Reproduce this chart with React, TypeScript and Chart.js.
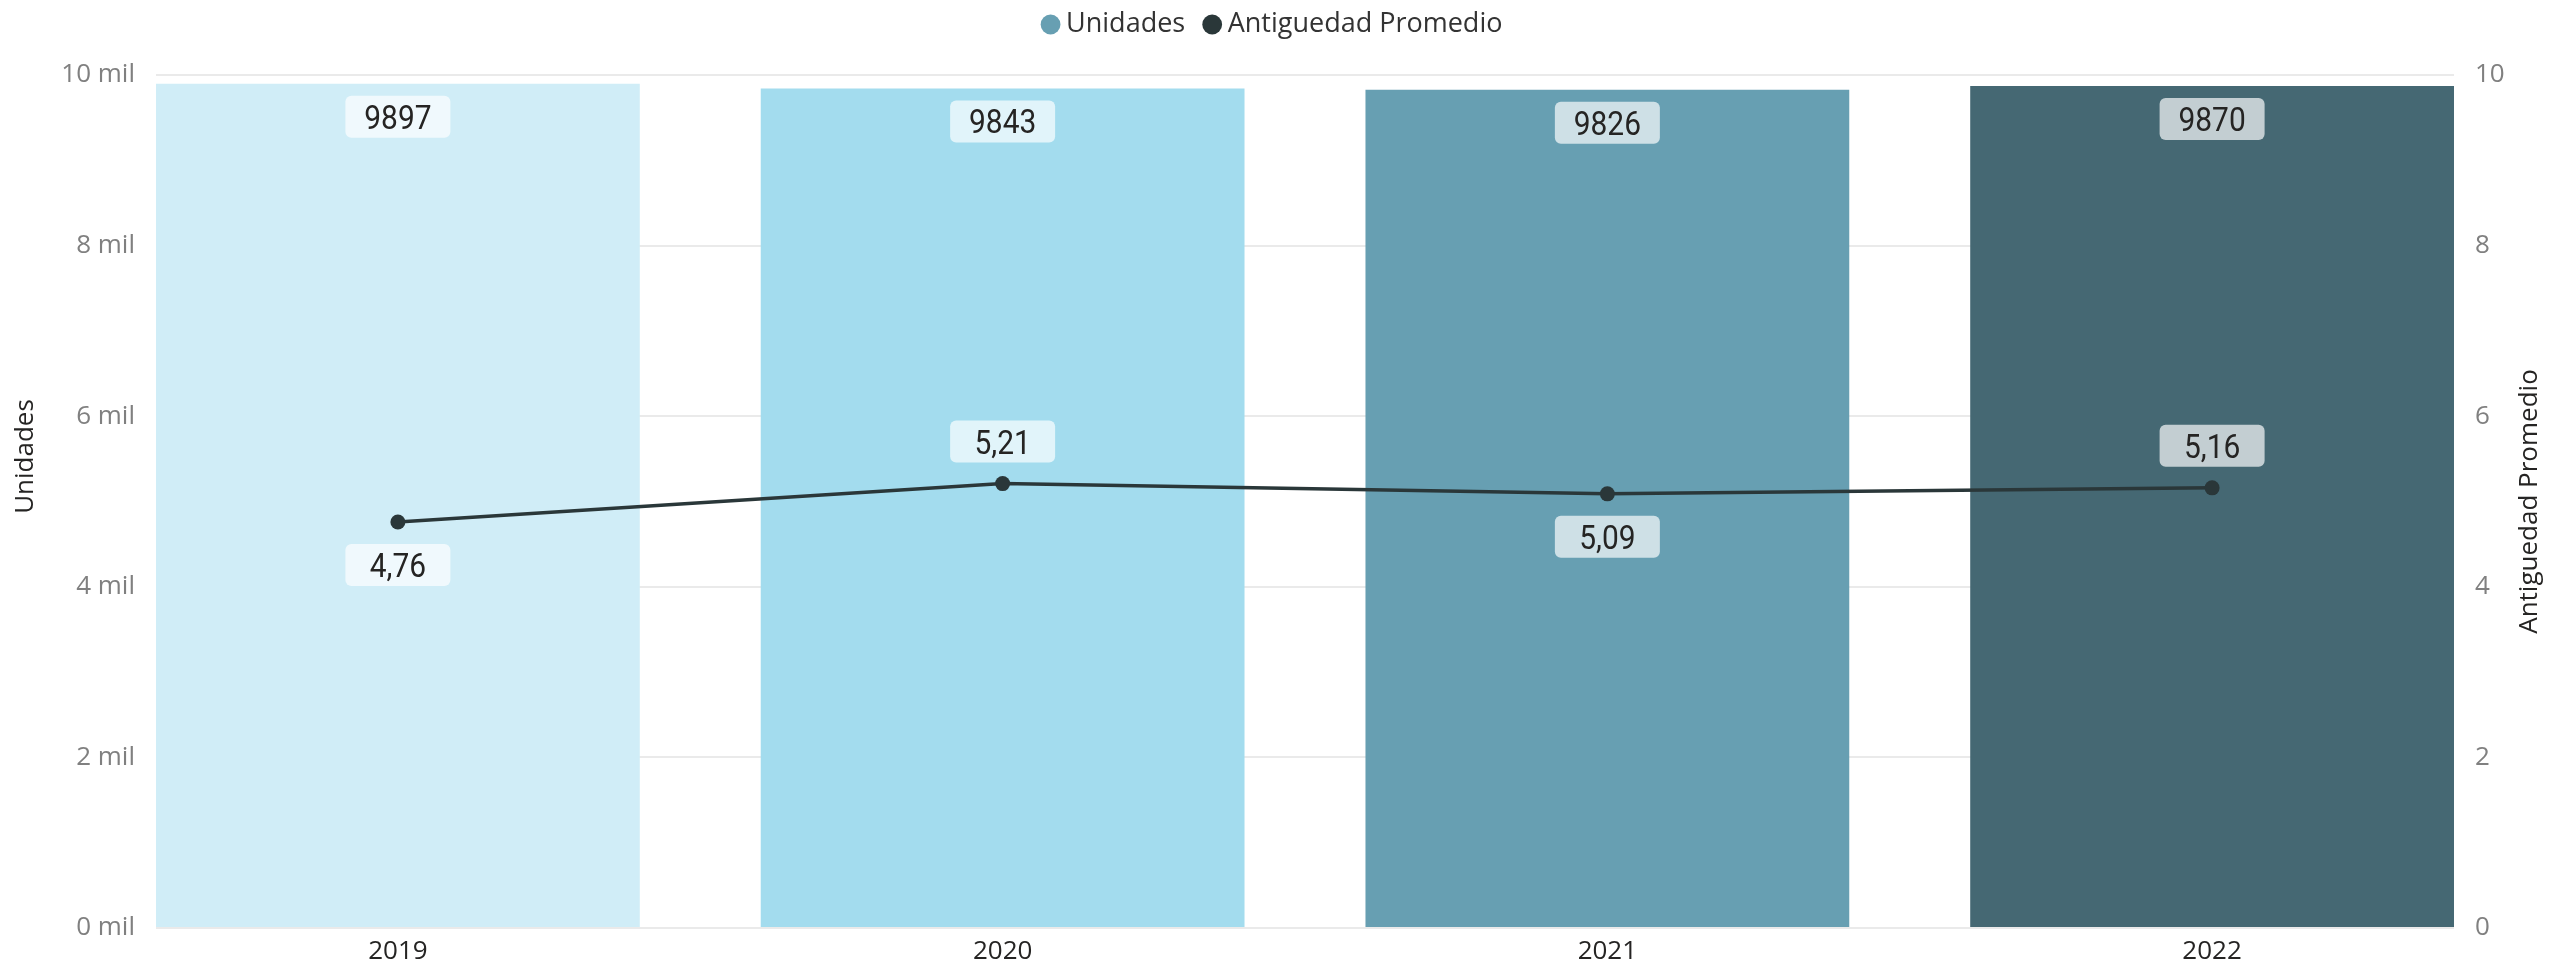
import React, { useEffect, useRef } from "react";
import { Chart, registerables } from "chart.js";

Chart.register(...registerables);

const W = 2551;
const H = 967;

// ---- data ----
const YEARS = ["2019", "2020", "2021", "2022"];
const UNIDADES = [9897, 9843, 9826, 9870];
const ANTIGUEDAD = [4.76, 5.21, 5.09, 5.16];
const LEFT_TICKS = [0, 2000, 4000, 6000, 8000, 10000];
const RIGHT_TICKS = [0, 2, 4, 6, 8, 10];
const LINE_LABEL_POS = ["below", "above", "below", "above"];
const LEFT_TITLE = "Unidades";
const RIGHT_TITLE = "Antiguedad Promedio";

// ---- styles ----
const BAR_COLORS = ["#D0EDF7", "#A3DCEE", "#679FB2", "#456873"];
const LEGEND_BAR_COLOR = "#679FB2";
const LINE_COLOR = "#2A3739";
const UI_FONT = "'Segoe UI', 'Open Sans', 'Noto Sans', sans-serif";
const LABEL_FONT = "400 34px Roboto, 'DejaVu Sans Condensed', sans-serif";

const fmtDec = (v: number) => v.toFixed(2).replace(".", ",");

function drawBox(ctx: CanvasRenderingContext2D, cx: number, cy: number, text: string) {
  const w = 105;
  const h = 42;
  ctx.fillStyle = "rgba(255,255,255,0.68)";
  ctx.beginPath();
  (ctx as any).roundRect(cx - w / 2, cy - h / 2, w, h, 6);
  ctx.fill();
  ctx.save();
  ctx.translate(cx, cy + 12);
  ctx.scale(0.88, 1);
  ctx.fillStyle = "#252423";
  ctx.font = LABEL_FONT;
  ctx.textAlign = "center";
  ctx.textBaseline = "alphabetic";
  ctx.fillText(text, 0, 0);
  ctx.restore();
}

function drawVerticalTitle(ctx: CanvasRenderingContext2D, x: number, y: number, text: string) {
  ctx.save();
  ctx.translate(x, y);
  ctx.rotate(-Math.PI / 2);
  ctx.font = `26px ${UI_FONT}`;
  ctx.fillStyle = "#252423";
  ctx.textAlign = "center";
  ctx.textBaseline = "middle";
  ctx.fillText(text, 0, 0);
  ctx.restore();
}

const labelPlugin = {
  id: "valueLabels",
  afterDatasetsDraw(chart: any) {
    const ctx = chart.ctx as CanvasRenderingContext2D;
    ctx.save();
    const barMeta = chart.getDatasetMeta(0);
    barMeta.data.forEach((el: any, i: number) => {
      drawBox(ctx, el.x, el.y + 12 + 21, String(UNIDADES[i]));
    });
    const lineMeta = chart.getDatasetMeta(1);
    lineMeta.data.forEach((el: any, i: number) => {
      const cy = LINE_LABEL_POS[i] === "above" ? el.y - 21 - 21 : el.y + 22 + 21;
      drawBox(ctx, el.x, cy, fmtDec(ANTIGUEDAD[i]));
    });
    ctx.restore();
  },
  afterDraw(chart: any) {
    const ctx = chart.ctx as CanvasRenderingContext2D;
    const area = chart.chartArea;
    const mid = (area.top + area.bottom) / 2;
    drawVerticalTitle(ctx, 26, mid - 45, LEFT_TITLE);
    drawVerticalTitle(ctx, W - 21, mid, RIGHT_TITLE);
  },
};

const legendPlugin = {
  id: "legendSize",
  afterInit(chart: any) {
    const leg = chart.legend;
    if (!leg || leg.__patched) return;
    const fit = leg.fit;
    leg.fit = function () {
      fit.call(this);
      this.height = 75;
    };
    leg.__patched = true;
  },
  afterLayout(chart: any) {
    if (chart.legend) chart.legend.top = -14;
  },
};

export default function App() {
  const ref = useRef<HTMLCanvasElement>(null);

  useEffect(() => {
    document.body.style.margin = "0";
    document.body.style.overflow = "hidden";
    const canvas = ref.current;
    if (!canvas) return;

    const tickFont = { family: UI_FONT, size: 26 };

    const chart = new Chart(canvas, {
      type: "bar",
      data: {
        datasets: [
          {
            type: "bar",
            label: "Unidades",
            data: UNIDADES.map((v, i) => ({ x: i, y: v })),
            backgroundColor: BAR_COLORS,
            borderWidth: 0,
            barPercentage: 0.8,
            categoryPercentage: 1,
            xAxisID: "x",
            yAxisID: "y",
            order: 2,
          },
          {
            type: "line",
            label: "Antiguedad Promedio",
            data: ANTIGUEDAD.map((v, i) => ({ x: i, y: v })),
            borderColor: LINE_COLOR,
            backgroundColor: LINE_COLOR,
            borderWidth: 3.5,
            pointRadius: 7.5,
            pointBackgroundColor: LINE_COLOR,
            pointBorderWidth: 0,
            tension: 0,
            xAxisID: "x",
            yAxisID: "y1",
            order: 1,
          },
        ] as any,
      },
      options: {
        responsive: false,
        animation: false,
        devicePixelRatio: 1,
        layout: { padding: 0 },
        plugins: {
          tooltip: { enabled: false },
          legend: {
            display: true,
            position: "top",
            align: "center",
            labels: {
              usePointStyle: true,
              pointStyle: "circle",
              boxWidth: 4,
              boxHeight: 14,
              padding: 25,
              color: "#333333",
              font: { family: UI_FONT, size: 27 },
              generateLabels: () => [
                {
                  text: "Unidades",
                  fillStyle: LEGEND_BAR_COLOR,
                  strokeStyle: LEGEND_BAR_COLOR,
                  lineWidth: 0,
                  pointStyle: "circle",
                  hidden: false,
                  datasetIndex: 0,
                  fontColor: "#333333",
                },
                {
                  text: "Antiguedad Promedio",
                  fillStyle: LINE_COLOR,
                  strokeStyle: LINE_COLOR,
                  lineWidth: 0,
                  pointStyle: "circle",
                  hidden: false,
                  datasetIndex: 1,
                  fontColor: "#333333",
                },
              ],
            },
          },
        },
        scales: {
          x: {
            type: "linear",
            min: -0.4,
            max: 3.4,
            offset: false,
            grid: { display: false, drawTicks: false, offset: false },
            border: { display: false },
            afterBuildTicks: (s: any) => {
              s.ticks = YEARS.map((_, i) => ({ value: i }));
            },
            afterFit: (s: any) => {
              s.height = 39;
            },
            ticks: {
              autoSkip: false,
              maxRotation: 0,
              padding: 8,
              color: "#252423",
              font: tickFont,
              callback: (v: any) => YEARS[Number(v)] ?? "",
            },
          },
          y: {
            type: "linear",
            position: "left",
            min: 0,
            max: 10000,
            afterBuildTicks: (s: any) => {
              s.ticks = LEFT_TICKS.map((v) => ({ value: v }));
            },
            afterFit: (s: any) => {
              s.width = 156;
            },
            grid: { color: "#EAEAEA", lineWidth: 2, drawTicks: false },
            border: { display: false },
            ticks: {
              padding: 21,
              color: "#808080",
              font: tickFont,
              callback: (v: any) => `${Number(v) / 1000} mil`,
            },
            title: { display: false, text: LEFT_TITLE },
          },
          y1: {
            type: "linear",
            position: "right",
            min: 0,
            max: 10,
            afterBuildTicks: (s: any) => {
              s.ticks = RIGHT_TICKS.map((v) => ({ value: v }));
            },
            afterFit: (s: any) => {
              s.width = 97;
            },
            grid: { display: false, drawTicks: false },
            border: { display: false },
            ticks: {
              padding: 21,
              color: "#808080",
              font: tickFont,
              callback: (v: any) => String(v),
            },
            title: { display: false, text: RIGHT_TITLE },
          },
        },
      } as any,
      plugins: [labelPlugin, legendPlugin],
    });

    return () => chart.destroy();
  }, []);

  return (
    <div style={{ width: W, height: H }}>
      <canvas ref={ref} width={W} height={H} style={{ display: "block", width: W, height: H }} />
    </div>
  );
}
